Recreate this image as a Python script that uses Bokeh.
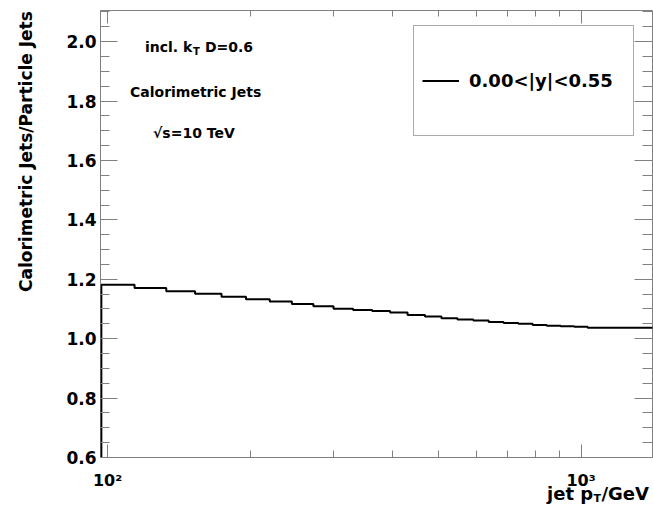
import numpy as np
from bokeh.plotting import figure
from bokeh.models import (Range1d, FixedTicker, LinearAxis, LogAxis, Legend,
                          LegendItem)
from bokeh.embed import file_html
from bokeh.resources import INLINE
from bokeh.core.properties import value

# ---------------- data ----------------
bin_edges = [97, 114, 133, 153, 174, 196, 220, 245, 272, 300, 330, 362, 395,
             430, 468, 507, 548, 592, 638, 686, 737, 790, 846, 905, 967, 1032,
             1101, 1172, 1248, 1327, 1410, 1497]
ratio = [1.182, 1.171, 1.160, 1.151, 1.141, 1.133, 1.125, 1.117, 1.109, 1.101,
         1.097, 1.093, 1.088, 1.080, 1.075, 1.069, 1.065, 1.061, 1.056, 1.053,
         1.050, 1.046, 1.044, 1.042, 1.040, 1.037, 1.037, 1.037, 1.037, 1.037,
         1.037]
legend_label = "0.00<|y|<0.55"

x_ticks = [100, 1000]
x_tick_labels = ["10\u00b2", "10\u00b3"]
x_minor_ticks = [200, 300, 400, 500, 600, 700, 800, 900]
y_ticks = [0.6, 0.8, 1.0, 1.2, 1.4, 1.6, 1.8, 2.0]
y_tick_labels = ["0.6", "0.8", "1.0", "1.2", "1.4", "1.6", "1.8", "2.0"]
y_minor_ticks = [round(0.6 + 0.05 * i, 2) for i in range(31)]

# axis titles (placed as labels of tick-less helper axes)
y_title = {1.63: "Calorimetric Jets/Particle Jets"}
x_title_main = {948: "jet p", 1239: "/GeV"}   # "jet p_T/GeV"
x_title_sub = {1081: "T"}

FONT = "DejaVu Sans"
GRAY = "#808080"

# ---------------- figure ----------------
p = figure(width=653, height=508, x_axis_type="log",
           x_range=Range1d(96.6, 1415), y_range=Range1d(0.6, 2.105),
           output_backend="svg", toolbar_location=None,
           min_border_left=100, min_border_right=1,
           min_border_top=10, min_border_bottom=51)
p.grid.visible = False
p.outline_line_color = GRAY
p.outline_line_width = 1
p.background_fill_color = "white"
p.border_fill_color = "white"

# step outline of the histogram (ROOT style, rising from the baseline)
xs = [bin_edges[0]]
ys = [0.0]
for i, v in enumerate(ratio):
    xs += [bin_edges[i], bin_edges[i + 1]]
    ys += [v, v]
r = p.line(xs, ys, line_color="black", line_width=2)

# ---------------- axes ----------------
def style_axis(ax, major_in, minor_in, size="17px"):
    ax.axis_line_color = None
    ax.major_tick_line_color = GRAY
    ax.minor_tick_line_color = GRAY
    ax.major_tick_in = major_in
    ax.major_tick_out = 0
    ax.minor_tick_in = minor_in
    ax.minor_tick_out = 0
    ax.major_label_text_font = FONT
    ax.major_label_text_font_style = "bold"
    ax.major_label_text_font_size = size
    ax.major_label_text_color = "black"

xax = p.xaxis[0]
xax.ticker = FixedTicker(ticks=x_ticks, minor_ticks=x_minor_ticks)
xax.major_label_overrides = {t: l for t, l in zip(x_ticks, x_tick_labels)}
style_axis(xax, 13, 7, size="16px")
xax.major_label_standoff = 13

yax = p.yaxis[0]
yax.ticker = FixedTicker(ticks=y_ticks, minor_ticks=y_minor_ticks)
yax.major_label_overrides = {t: l for t, l in zip(y_ticks, y_tick_labels)}
style_axis(yax, 17, 9, size="17px")
yax.major_label_standoff = 4

top = LogAxis(ticker=FixedTicker(ticks=x_ticks, minor_ticks=x_minor_ticks))
style_axis(top, 13, 6, size="1px")
top.major_label_overrides = {t: "" for t in x_ticks}
top.major_label_standoff = 0
p.add_layout(top, "above")

right = LinearAxis(ticker=FixedTicker(ticks=y_ticks, minor_ticks=y_minor_ticks))
style_axis(right, 18, 10, size="1px")
right.major_label_overrides = {t: "" for t in y_ticks}
right.major_label_standoff = 0
p.add_layout(right, "right")

# ---------------- axis titles ----------------
def text_axis(cls, labels, size, standoff):
    ax = cls(ticker=FixedTicker(ticks=list(labels.keys()), minor_ticks=[]))
    ax.major_label_overrides = dict(labels)
    ax.axis_line_color = None
    ax.major_tick_line_color = None
    ax.minor_tick_line_color = None
    ax.major_tick_in = 0
    ax.major_tick_out = 0
    ax.minor_tick_in = 0
    ax.minor_tick_out = 0
    ax.major_label_standoff = standoff
    ax.major_label_text_font = FONT
    ax.major_label_text_font_style = "bold"
    ax.major_label_text_font_size = size
    ax.major_label_text_color = "black"
    return ax

p.add_layout(text_axis(LogAxis, x_title_main, "18px", -10), "below")
p.add_layout(text_axis(LogAxis, x_title_sub, "11px", -15), "below")

ytitle_axis = text_axis(LinearAxis, y_title, "17px", 27)
ytitle_axis.major_label_orientation = "vertical"
p.add_layout(ytitle_axis, "left")

# ---------------- in-plot texts ----------------
tkw = dict(text_font=value(FONT), text_font_style="bold",
           text_baseline="alphabetic", text_align="left", text_color="black")
p.text(x=[119.9], y=[1.982], text=["incl. k"], text_font_size="14px", **tkw)
p.text(x=[119.9], y=[1.982], text=["T"], text_font_size="10px",
       x_offset=48, y_offset=4, **tkw)
p.text(x=[119.9], y=[1.982], text=["D=0.6"], text_font_size="14px",
       x_offset=60, **tkw)
p.text(x=[111.5], y=[1.832], text=["Calorimetric Jets"],
       text_font_size="14px", **tkw)
p.text(x=[124.7], y=[1.693], text=["\u221as=10 TeV"],
       text_font_size="14px", **tkw)

# ---------------- legend ----------------
legend = Legend(items=[LegendItem(label=legend_label, renderers=[r])],
                location=(313, 321), orientation="vertical",
                padding=8, margin=0, spacing=0,
                glyph_width=37, glyph_height=93, label_standoff=10,
                label_width=156, label_height=20,
                label_text_font=FONT, label_text_font_style="bold",
                label_text_font_size="18px", label_text_color="black",
                border_line_color="#555555", border_line_width=1,
                background_fill_color="white", background_fill_alpha=1.0)
p.add_layout(legend, "center")

open("out.html", "w").write(file_html(p, INLINE))
